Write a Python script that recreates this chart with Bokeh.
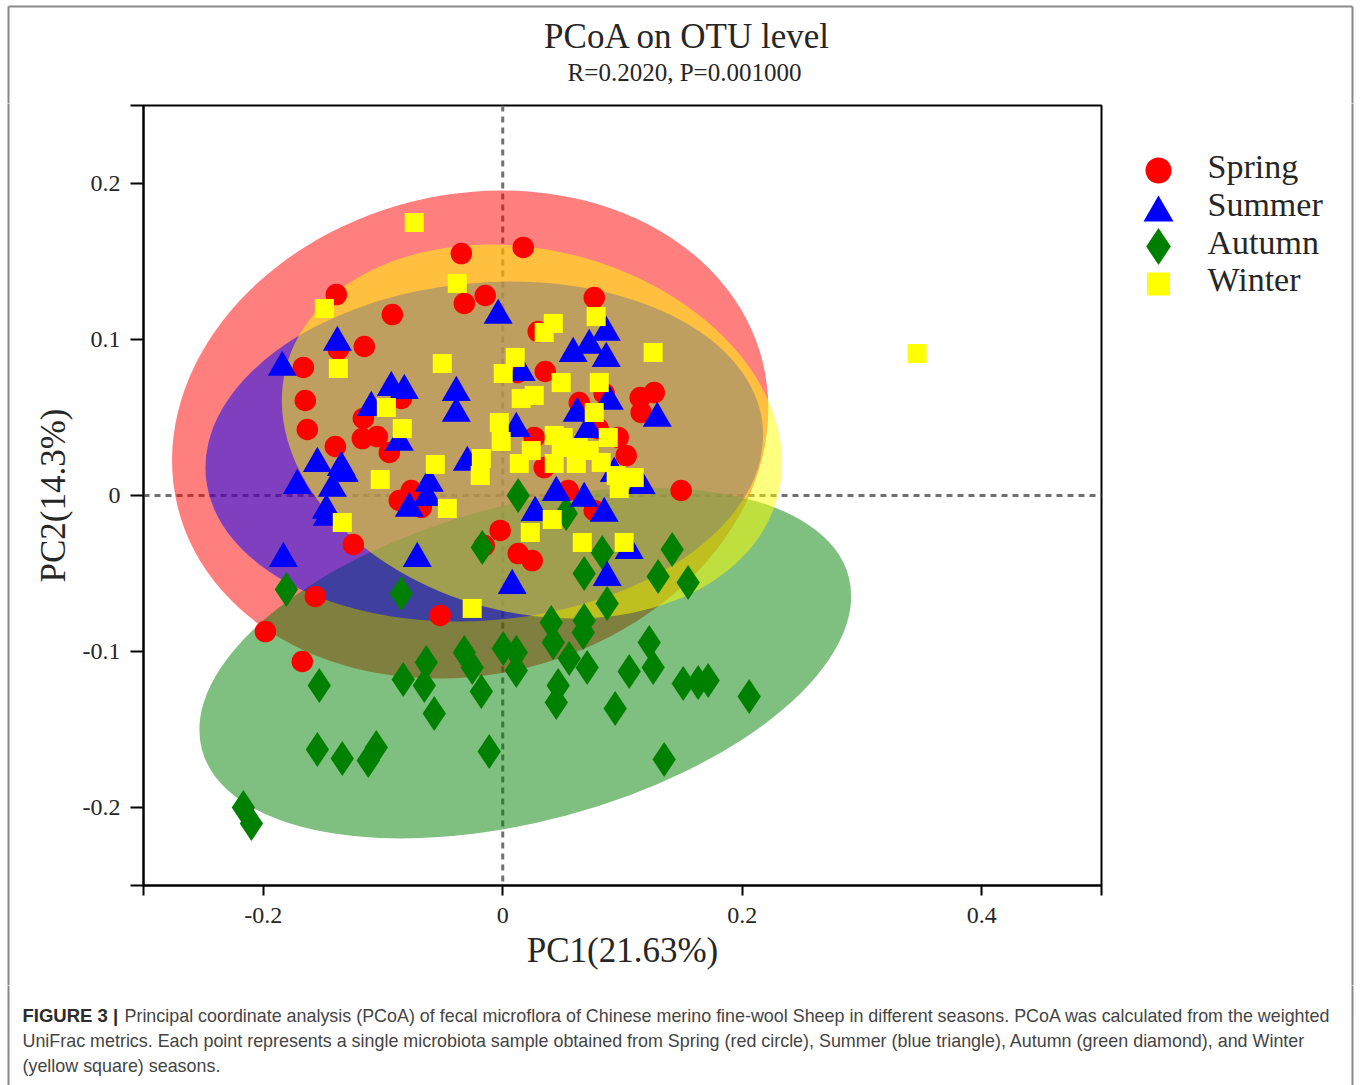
import numpy as np
from bokeh.plotting import figure
from bokeh.layouts import column, row
from bokeh.models import Span, FixedTicker, CustomJSTickFormatter, Range1d
from bokeh.core.properties import value
from bokeh.embed import file_html
from bokeh.resources import INLINE

# ---------------- data ----------------
seasons = ["Spring", "Summer", "Autumn", "Winter"]

spring_x = [-0.0346, 0.0171, -0.0321, -0.0146, -0.1390, -0.0922, -0.1373, -0.1156, -0.1665, -0.1649,
            -0.1632, -0.1398, -0.1164, -0.1173, -0.1048, -0.0947, -0.0847, 0.0764, 0.0296, 0.0355,
            0.0121, 0.0639, 0.0847, 0.1148, 0.1265, 0.1156, 0.0797, 0.0263, 0.0964, 0.1031,
            0.0346, 0.1490, 0.0547, 0.0764, -0.0021, -0.0154, 0.0129, 0.0246, -0.0864, -0.0764,
            -0.0680, -0.1248, -0.1565, -0.0522, -0.1982, -0.1674]
spring_y = [0.1551, 0.1590, 0.1231, 0.1282, 0.1288, 0.1160, 0.0936, 0.0955, 0.0821, 0.0609,
            0.0423, 0.0314, 0.0494, 0.0365, 0.0378, 0.0276, 0.0622, 0.1269, 0.1051, 0.0795,
            0.0788, 0.0596, 0.0654, 0.0628, 0.0660, 0.0532, 0.0429, 0.0372, 0.0372, 0.0256,
            0.0179, 0.0032, 0.0032, -0.0096, -0.0224, -0.0321, -0.0372, -0.0417, -0.0032, 0.0032,
            -0.0077, -0.0314, -0.0647, -0.0769, -0.0872, -0.1064]

summer_x = [-0.0038, -0.1381, -0.1841, -0.0931, -0.0822, -0.1098, -0.0388, -0.0388, 0.0588, 0.0722,
            0.0864, 0.0864, 0.0154, 0.1290, 0.0889, 0.0622, 0.0714, 0.0113, -0.0864, -0.1548,
            -0.1348, -0.1323, -0.1715, -0.1423, -0.1473, -0.1465, -0.0296, -0.0614, -0.0630, -0.0780,
            -0.1832, -0.0714, 0.0447, 0.0680, 0.0847, 0.0271, 0.1156, 0.0931, 0.1056, 0.0872, 0.0079]
summer_y = [0.1154, 0.0981, 0.0821, 0.0692, 0.0673, 0.0564, 0.0660, 0.0526, 0.0910, 0.0962,
            0.1045, 0.0878, 0.0788, 0.0494, 0.0603, 0.0526, 0.0423, 0.0429, 0.0340, 0.0205,
            0.0179, 0.0141, 0.0064, 0.0045, -0.0096, -0.0141, 0.0212, 0.0077, -0.0013, -0.0083,
            -0.0404, -0.0404, 0.0019, -0.0019, -0.0115, -0.0109, 0.0064, 0.0141, -0.0353, -0.0526, -0.0577]

autumn_x = [0.0129, 0.0530, -0.0171, 0.0831, 0.0680, 0.1415, 0.1298, 0.1548, 0.0872, 0.0405,
            0.0422, 0.0680, 0.0672, -0.0321, -0.0255, -0.0179, 0.0004, 0.0113, 0.0113, 0.0555,
            0.0705, 0.0463, 0.0447, 0.1223, 0.1256, 0.1056, 0.1507, 0.1632, 0.1715, 0.2058,
            0.0939, 0.1348, -0.1532, -0.0831, -0.0639, -0.0655, -0.0572, -0.0113, -0.1548, -0.1340,
            -0.1123, -0.1056, -0.2166, -0.2099, -0.1807, -0.0847]
autumn_y = [0.0000, -0.0115, -0.0333, -0.0365, -0.0500, -0.0346, -0.0519, -0.0558, -0.0692, -0.0814,
            -0.0942, -0.0801, -0.0878, -0.1006, -0.1103, -0.1256, -0.0981, -0.1006, -0.1122, -0.1045,
            -0.1103, -0.1218, -0.1327, -0.0942, -0.1103, -0.1128, -0.1205, -0.1199, -0.1186, -0.1288,
            -0.1365, -0.1692, -0.1218, -0.1179, -0.1071, -0.1218, -0.1397, -0.1641, -0.1628, -0.1686,
            -0.1699, -0.1615, -0.2000, -0.2103, -0.0603, -0.0628]

winter_x = [-0.0739, -0.0380, -0.1490, -0.1373, -0.0505, -0.0972, -0.0839, 0.0422, 0.0346, 0.0780,
            0.1256, 0.0104, 0.0004, 0.0488, 0.0806, 0.0154, 0.0263, 0.0764, -0.0029, 0.0430,
            0.0505, 0.0881, -0.0563, -0.1023, -0.0463, -0.1340, -0.0255, -0.0013, -0.0179, -0.0188,
            0.0138, 0.0238, 0.0488, 0.0430, 0.0614, 0.0630, 0.0722, 0.0822, 0.0947, 0.1098,
            0.0973, 0.0413, 0.0230, 0.0664, 0.1014, 0.3460]
winter_y = [0.1750, 0.1359, 0.1199, 0.0814, 0.0846, 0.0564, 0.0429, 0.1103, 0.1045, 0.1147,
            0.0917, 0.0885, 0.0782, 0.0724, 0.0724, 0.0622, 0.0641, 0.0532, 0.0468, 0.0385,
            0.0372, 0.0372, 0.0199, 0.0103, -0.0083, -0.0173, -0.0724, 0.0346, 0.0237, 0.0128,
            0.0205, 0.0288, 0.0308, 0.0205, 0.0205, 0.0308, 0.0288, 0.0212, 0.0128, 0.0115,
            0.0045, -0.0154, -0.0237, -0.0301, -0.0301, 0.0910]

# confidence ellipses (drawn in this order)
ellipse_season = ["Spring", "Autumn", "Summer", "Winter"]
ellipse_cx = [-0.0272, 0.0188, -0.0154, 0.0244]
ellipse_cy = [0.0391, -0.1074, 0.0282, 0.0410]
ellipse_w = [0.5033, 0.5591, 0.4669, 0.4245]
ellipse_h = [0.3077, 0.2024, 0.2164, 0.2327]
ellipse_angle_deg = [13.9, 15.0, 5.2, -14.65]

x_ticks = [-0.3, -0.2, 0.0, 0.2, 0.4, 0.5]
y_ticks = [-0.25, -0.2, -0.1, 0.0, 0.1, 0.2, 0.25]

title_text = "PCoA on OTU level"
subtitle_text = "R=0.2020, P=0.001000"
x_label = "PC1(21.63%)"
y_label = "PC2(14.3%)"
caption_bold = "FIGURE 3 |"
caption_lines = [
    "Principal coordinate analysis (PCoA) of fecal microflora of Chinese merino fine-wool Sheep in different seasons. PCoA was calculated from the weighted",
    "UniFrac metrics. Each point represents a single microbiota sample obtained from Spring (red circle), Summer (blue triangle), Autumn (green diamond), and Winter",
    "(yellow square) seasons.",
]

# ---------------- styles ----------------
colors = {"Spring": "#ff0000", "Summer": "#0000ff", "Autumn": "#008000", "Winter": "#ffff00"}
markers = {"Spring": "circle", "Summer": "triangle", "Autumn": "diamond", "Winter": "square"}
msizes = {"Spring": 21.5, "Summer": 29, "Autumn": 35, "Winter": 19}
leg_sizes = {"Spring": 26, "Summer": 30, "Autumn": 37, "Winter": 23}
SERIF = "Liberation Serif"
SANS = "Liberation Sans"
TXT = "#262626"
BORDER = "#8a8a8a"

W, H = 1360, 1085
STRIP_W = 12           # left strip holding the outer frame line
MAIN_W = 1098          # main plot canvas width
LEG_W = W - STRIP_W - MAIN_W
HDR_H = 103
MID_H = 882
CAP_H = H - HDR_H - MID_H
BX0, BX1, BY0 = 8, 1352, 6   # outer frame lines


def no_align(f):
    if "frame_align" in f.properties():
        f.frame_align = False


def blank(width, height, x0, y0):
    f = figure(width=width, height=height, x_range=Range1d(x0, x0 + width),
               y_range=Range1d(y0 + height, y0), output_backend="svg", toolbar_location=None,
               x_axis_location=None, y_axis_location=None, min_border=0,
               min_border_left=0, min_border_right=0, min_border_top=0, min_border_bottom=0)
    f.title.visible = False
    f.xgrid.visible = False
    f.ygrid.visible = False
    f.outline_line_color = None
    f.background_fill_color = "white"
    f.border_fill_color = "white"
    no_align(f)
    return f


def texts(f, xs, ys, txt, size, font=SERIF, align="left", baseline="middle",
          color=TXT, style="normal"):
    f.text(x=xs, y=ys, text=txt, text_font=value(font), text_font_size=value(f"{size}px"),
           text_align=align, text_baseline=baseline, text_color=color, text_font_style=style)


def vline(f, x, y0, y1):
    f.segment(x0=[x], y0=[y0 - 10], x1=[x], y1=[y1 + 10], line_color=BORDER, line_width=2)


# ---------------- main plot ----------------
p = figure(width=MAIN_W, height=MID_H, x_range=Range1d(-0.3, 0.5), y_range=Range1d(-0.25, 0.25),
           output_backend="svg", toolbar_location=None,
           min_border_left=143 - STRIP_W, min_border_right=STRIP_W + MAIN_W - 1101,
           min_border_top=105 - HDR_H, min_border_bottom=HDR_H + MID_H - 885)
p.title.visible = False
p.xgrid.visible = False
p.ygrid.visible = False
p.outline_line_color = "black"
p.outline_line_width = 2
p.background_fill_color = "white"
p.border_fill_color = "white"
no_align(p)

fmt = CustomJSTickFormatter(code="""
const a = Math.abs(tick);
if (a < 1e-9) return "0";
if (Math.abs(a - 0.3) < 1e-9 || Math.abs(a - 0.5) < 1e-9 || Math.abs(a - 0.25) < 1e-9) return "";
return tick.toFixed(1);
""")

for ax, ticks in ((p.xaxis[0], x_ticks), (p.yaxis[0], y_ticks)):
    ax.ticker = FixedTicker(ticks=ticks)
    ax.formatter = fmt
    ax.axis_line_color = "black"
    ax.axis_line_width = 2
    ax.major_tick_line_color = "black"
    ax.major_tick_line_width = 2
    ax.major_tick_in = 0
    ax.minor_tick_line_color = None
    ax.major_label_text_font = SERIF
    ax.major_label_text_font_size = "24px"
    ax.major_label_text_color = TXT
    ax.axis_label_text_font = SERIF
    ax.axis_label_text_font_size = "35px"
    ax.axis_label_text_font_style = "normal"
    ax.axis_label_text_color = TXT

p.xaxis.axis_label = x_label
p.yaxis.axis_label = y_label
p.xaxis.major_tick_out = 10
p.xaxis.major_label_standoff = 12
p.xaxis.axis_label_standoff = 5
p.yaxis.major_tick_out = 13
p.yaxis.major_label_standoff = 10
p.yaxis.axis_label_standoff = 7

# dotted zero lines (under the ellipses)
for dim in ("width", "height"):
    p.add_layout(Span(location=0, dimension=dim, line_color="#707070", line_width=3,
                      line_dash="6 5", level="underlay"))

# ellipses
for s, ex, ey, ew, eh, ea in zip(ellipse_season, ellipse_cx, ellipse_cy, ellipse_w, ellipse_h,
                                 ellipse_angle_deg):
    p.ellipse(x=[ex], y=[ey], width=[ew], height=[eh], angle=[float(np.radians(ea))],
              fill_color=colors[s], fill_alpha=0.5, line_color=None)

# points
series = {"Spring": (spring_x, spring_y), "Summer": (summer_x, summer_y),
          "Autumn": (autumn_x, autumn_y), "Winter": (winter_x, winter_y)}
for s in ["Spring", "Autumn", "Summer", "Winter"]:
    xs, ys = series[s]
    p.scatter(x=xs, y=ys, marker=markers[s], size=msizes[s], fill_color=colors[s], line_color=None)

# ---------------- header (title) ----------------
hdr = blank(W, HDR_H, 0, 0)
texts(hdr, [687], [36], [title_text], 35, align="center")
texts(hdr, [684], [72], [subtitle_text], 25, align="center")
hdr.segment(x0=[BX0], y0=[BY0], x1=[BX1], y1=[BY0], line_color=BORDER, line_width=2)
vline(hdr, BX0, BY0 + 10, HDR_H)
vline(hdr, BX1, BY0 + 10, HDR_H)

# ---------------- left strip (outer frame line) ----------------
strip = blank(STRIP_W, MID_H, 0, HDR_H)
vline(strip, BX0, HDR_H, HDR_H + MID_H)

# ---------------- legend ----------------
leg = blank(LEG_W, MID_H, STRIP_W + MAIN_W, HDR_H)
leg_mark_x = 1158
leg_mark_y = {"Spring": 170, "Summer": 212.3, "Autumn": 246, "Winter": 283.5}
leg_text_y = {"Spring": 166, "Summer": 204, "Autumn": 242, "Winter": 279}
for s in seasons:
    leg.scatter(x=[leg_mark_x], y=[leg_mark_y[s]], marker=markers[s], size=leg_sizes[s],
                fill_color=colors[s], line_color=None)
texts(leg, [1207] * 4, [leg_text_y[s] for s in seasons], seasons, 34)
vline(leg, BX1, HDR_H, HDR_H + MID_H)

# ---------------- caption ----------------
cap = blank(W, CAP_H, 0, HDR_H + MID_H)
texts(cap, [22], [1015.4], [caption_bold], 18.5, font=SANS, color="#2b2b2b", style="bold")
texts(cap, [124, 22, 22], [1015.5, 1040.5, 1065.3], caption_lines, 17.9, font=SANS, color="#444444")
vline(cap, BX0, HDR_H + MID_H, H)
vline(cap, BX1, HDR_H + MID_H, H)

layout = column(hdr, row(strip, p, leg, spacing=0), cap, spacing=0)
open("out.html", "w").write(file_html(layout, INLINE))
